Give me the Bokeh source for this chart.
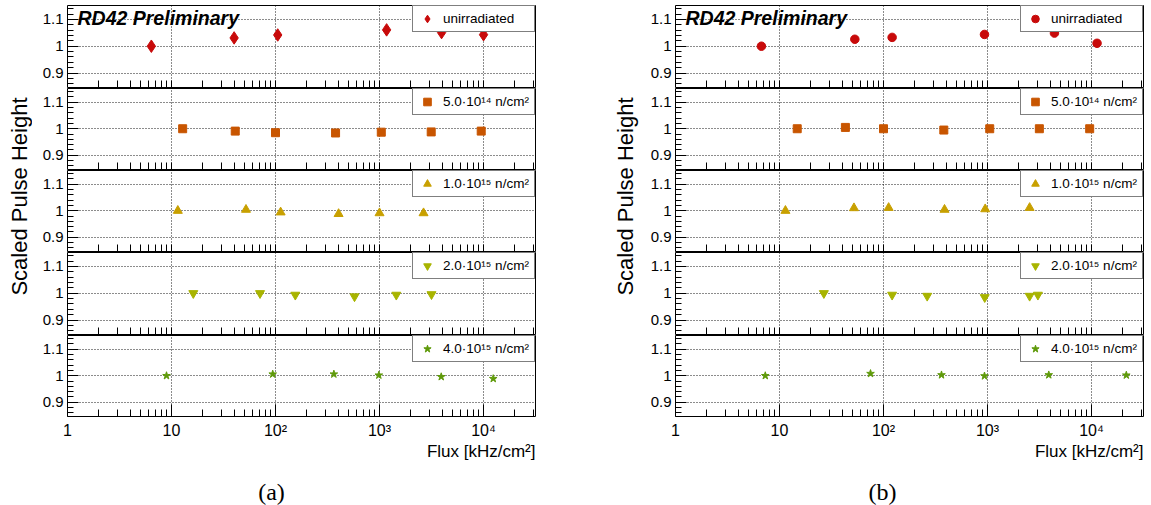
import math
from bokeh.plotting import figure
from bokeh.layouts import row, column
from bokeh.models import (Range1d, FixedTicker, Label, Legend, LegendItem,
                          CustomJSTickFormatter, ColumnDataSource)
from bokeh.embed import file_html
from bokeh.resources import INLINE

# ---------------- data ----------------
series_labels = ["unirradiated", "5.0\u00b710\u00b9\u2074 n/cm\u00b2", "1.0\u00b710\u00b9\u2075 n/cm\u00b2",
                 "2.0\u00b710\u00b9\u2075 n/cm\u00b2", "4.0\u00b710\u00b9\u2075 n/cm\u00b2"]
series_colors = ["#c80a0a", "#c85500", "#c8a000", "#a8b400", "#5f9a0a"]

# panel (a)
a_unirr_flux = [6.4, 40, 105, 1170, 3950, 10000]
a_unirr_ph = [1.000, 1.031, 1.042, 1.061, 1.051, 1.043]
a_5e14_flux = [12.8, 41, 100, 378, 1040, 3140, 9500]
a_5e14_ph = [1.000, 0.991, 0.985, 0.984, 0.987, 0.988, 0.991]
a_1e15_flux = [11.5, 52, 112, 404, 1000, 2650]
a_1e15_ph = [1.000, 1.004, 0.994, 0.988, 0.991, 0.991]
a_2e15_flux = [16.2, 71, 155, 575, 1450, 3160]
a_2e15_ph = [1.000, 1.000, 0.994, 0.988, 0.994, 0.996]
a_4e15_flux = [8.95, 94, 364, 985, 3920, 12400]
a_4e15_ph = [1.000, 1.006, 1.006, 1.002, 0.996, 0.989]

# panel (b)
b_unirr_flux = [6.7, 53, 121, 935, 4400, 11300]
b_unirr_ph = [1.000, 1.026, 1.033, 1.044, 1.049, 1.011]
b_5e14_flux = [14.8, 43, 100, 380, 1050, 3150, 9600]
b_5e14_ph = [1.000, 1.005, 1.000, 0.995, 1.000, 1.000, 1.000]
b_1e15_flux = [11.4, 52, 112, 386, 950, 2540]
b_1e15_ph = [1.000, 1.010, 1.011, 1.004, 1.006, 1.011]
b_2e15_flux = [26.7, 121, 263, 940, 2540, 3050]
b_2e15_ph = [1.000, 0.994, 0.990, 0.985, 0.990, 0.994]
b_4e15_flux = [7.3, 75, 361, 935, 3880, 21600]
b_4e15_ph = [1.000, 1.008, 1.003, 0.999, 1.003, 1.002]

x_major_ticks = [1, 10, 100, 1000, 10000]
x_tick_labels = ["1", "10", "10\u00b2", "10\u00b3", "10\u2074"]
y_major_ticks = [0.9, 1.0, 1.1]
y_tick_labels = ["0.9", "1", "1.1"]
y_minor_ticks = [0.86, 0.88, 0.92, 0.94, 0.96, 0.98, 1.02, 1.04, 1.06, 1.08, 1.12, 1.14]

X_RANGE = (1.0, 31600.0)
Y_RANGE = (0.846, 1.152)
x_minor_ticks = [m * d for d in x_major_ticks for m in range(2, 10) if m * d < X_RANGE[1]]

FONT = "Liberation Sans"
TOTAL_H = 505
FRAME_W = 468

panel_a = [(a_unirr_flux, a_unirr_ph), (a_5e14_flux, a_5e14_ph), (a_1e15_flux, a_1e15_ph),
           (a_2e15_flux, a_2e15_ph), (a_4e15_flux, a_4e15_ph)]
panel_b = [(b_unirr_flux, b_unirr_ph), (b_5e14_flux, b_5e14_ph), (b_1e15_flux, b_1e15_ph),
           (b_2e15_flux, b_2e15_ph), (b_4e15_flux, b_4e15_ph)]
markers_a = ["diamond", "square", "triangle", "inverted_triangle", "star"]
markers_b = ["circle", "square", "triangle", "inverted_triangle", "star"]
sizes_a = [12.5, 8, 9, 9, 8]
sizes_b = [8.5, 8, 9, 9, 8]

# (height, border top, border bottom) of each sub-pad
pad_geom = [(88, 5, 1), (82, 0, 1), (82, 0, 1), (83, 0, 1), (106, 0, 24)]


def make_sub(i, data, marker, size, width, ml, mr):
    flux, ph = data
    top = i == 0
    bottom = i == 4
    h, mt, mb = pad_geom[i]
    fh = h - mt - mb
    p = figure(width=width, height=h, x_axis_type="log",
               x_range=Range1d(*X_RANGE), y_range=Range1d(*Y_RANGE),
               output_backend="svg", toolbar_location=None,
               min_border_left=ml, min_border_right=mr,
               min_border_top=mt, min_border_bottom=mb)
    p.outline_line_color = "black"
    p.outline_line_width = 1
    p.background_fill_color = "white"
    p.border_fill_color = "white"

    # x axis
    xa = p.xaxis[0]
    xa.axis_line_color = None
    xa.major_tick_out = 0
    xa.minor_tick_out = 0
    xa.major_tick_in = 12
    xa.minor_tick_in = 7
    xa.major_tick_line_color = "black"
    xa.minor_tick_line_color = "black"
    if bottom:
        xa.ticker = FixedTicker(ticks=x_major_ticks, minor_ticks=x_minor_ticks)
        xa.formatter = CustomJSTickFormatter(
            args=dict(v=x_major_ticks, t=x_tick_labels),
            code="const i = v.indexOf(tick); return i < 0 ? '' : t[i];")
        xa.major_label_text_font = FONT
        xa.major_label_text_font_size = "16px"
        xa.major_label_text_color = "black"
        xa.major_label_standoff = 5
    else:
        xa.ticker = FixedTicker(ticks=[], minor_ticks=x_major_ticks[1:] + x_minor_ticks)
        xa.major_label_standoff = 0

    # y axis
    ya = p.yaxis[0]
    ya.axis_line_color = None
    ya.ticker = FixedTicker(ticks=y_major_ticks, minor_ticks=y_minor_ticks)
    ya.formatter = CustomJSTickFormatter(
        args=dict(v=y_major_ticks, t=y_tick_labels),
        code="const i = v.indexOf(tick); return i < 0 ? '' : t[i];")
    ya.major_tick_out = 0
    ya.minor_tick_out = 0
    ya.major_tick_in = 11
    ya.minor_tick_in = 6
    ya.major_tick_line_color = "black"
    ya.minor_tick_line_color = "black"
    ya.major_label_text_font = FONT
    ya.major_label_text_font_size = "15px"
    ya.major_label_text_color = "black"
    ya.major_label_standoff = 4

    # grids
    p.xgrid.ticker = FixedTicker(ticks=x_major_ticks[1:])
    p.ygrid.ticker = FixedTicker(ticks=y_major_ticks)
    for g in (p.xgrid, p.ygrid):
        g.grid_line_color = "black"
        g.grid_line_dash = "1 2"
        g.grid_line_width = 1
        g.grid_line_alpha = 0.9

    src = ColumnDataSource(dict(flux=flux, ph=ph))
    r = p.scatter("flux", "ph", source=src, marker=marker, size=size,
                  fill_color=series_colors[i], line_color=series_colors[i])

    lg = Legend(items=[LegendItem(label=series_labels[i], renderers=[r])],
                location="top_right", margin=0, padding=3, spacing=0,
                glyph_width=22, glyph_height=19, label_height=19, label_width=88,
                label_standoff=5, label_text_font=FONT, label_text_font_size="13.5px",
                label_text_color="black", border_line_color="black", border_line_width=1,
                background_fill_color="white", background_fill_alpha=1.0)
    p.add_layout(lg)

    if top:
        p.add_layout(Label(x=10, y=fh - 12, x_units="screen", y_units="screen",
                           text="RD42 Preliminary", text_font=FONT, text_font_style="bold italic",
                           text_font_size="19.5px", text_color="black", text_baseline="alphabetic"))
    return p


def make_strip(width, letter, letter_x):
    # the strip's frame is aligned by the column layout with the pads' frames
    h = TOTAL_H - sum(g[0] for g in pad_geom)
    p = figure(width=width, height=h, x_range=Range1d(0, FRAME_W), y_range=Range1d(0, h),
               output_backend="svg", toolbar_location=None, min_border=0)
    p.axis.visible = False
    p.grid.visible = False
    p.outline_line_color = None
    p.add_layout(Label(x=FRAME_W, y=h - 10, text="Flux [kHz/cm\u00b2]", text_font=FONT,
                       text_font_size="17px", text_color="black", text_align="right",
                       text_baseline="middle"))
    p.add_layout(Label(x=letter_x, y=14, text=letter, text_font="Liberation Serif",
                       text_font_size="24px", text_color="black", text_align="center",
                       text_baseline="alphabetic"))
    return p


def make_ylab(width, xc):
    p = figure(width=width, height=TOTAL_H, x_range=Range1d(0, width), y_range=Range1d(0, TOTAL_H),
               output_backend="svg", toolbar_location=None, min_border=0)
    p.axis.visible = False
    p.grid.visible = False
    p.outline_line_color = None
    p.add_layout(Label(x=xc, y=TOTAL_H - 196, text="Scaled Pulse Height", angle=math.pi / 2,
                       text_font=FONT, text_font_size="22px", text_color="black",
                       text_align="center", text_baseline="middle"))
    return p


col_a = column(*[make_sub(i, panel_a[i], markers_a[i], sizes_a[i], 513, 35, 10)
                 for i in range(5)], make_strip(513, "(a)", 204), spacing=0)
col_b = column(*[make_sub(i, panel_b[i], markers_b[i], sizes_b[i], 511, 35, 8)
                 for i in range(5)], make_strip(511, "(b)", 207), spacing=0)
layout = row(make_ylab(32, 19), col_a, make_ylab(95, 80), col_b, spacing=0)

open("out.html", "w").write(file_html(layout, INLINE))
